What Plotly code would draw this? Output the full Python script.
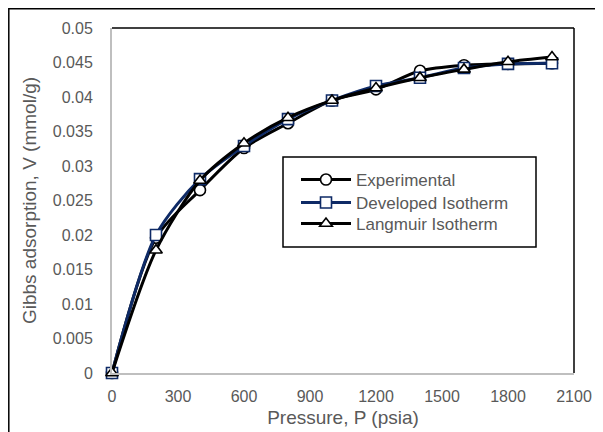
import plotly.graph_objects as go

pressure = [0, 200, 400, 600, 800, 1000, 1200, 1400, 1600, 1800, 2000]
experimental = [0, 0.0196, 0.0265, 0.0326, 0.0362, 0.0395, 0.0411, 0.0438, 0.0446, 0.0448, 0.0449]
developed = [0, 0.0200, 0.0281, 0.0329, 0.0368, 0.0395, 0.0416, 0.0428, 0.0442, 0.0448, 0.0449]
langmuir = [0, 0.0178, 0.0279, 0.0333, 0.0370, 0.0395, 0.0413, 0.0428, 0.0440, 0.0451, 0.0458]

x_ticks = [0, 300, 600, 900, 1200, 1500, 1800, 2100]
y_ticks = [0, 0.005, 0.01, 0.015, 0.02, 0.025, 0.03, 0.035, 0.04, 0.045, 0.05]
y_tick_text = ["0", "0.005", "0.01", "0.015", "0.02", "0.025", "0.03", "0.035", "0.04", "0.045", "0.05"]

font_family = "Liberation Sans, Arial, sans-serif"
grey = "#595959"

fig = go.Figure()
series = [
    ("Experimental", experimental, "black", "circle", "legend", 0.5594),
    ("Developed Isotherm", developed, "#0E2A66", "square", "legend2", 0.4928),
    ("Langmuir Isotherm", langmuir, "black", "triangle-up", "legend3", 0.4319),
]
legend_layouts = {}
for name, vals, col, sym, leg, ly in series:
    fig.add_trace(go.Scatter(
        x=pressure, y=vals, name=name, mode="lines+markers", legend=leg, cliponaxis=False,
        line=dict(color=col, width=3, shape="spline", smoothing=0.8),
        marker=dict(symbol=sym, size=11, color="white", line=dict(color=col, width=1.6)),
    ))
    legend_layouts[leg] = dict(
        x=(296 - 112) / 462, y=ly, xanchor="left", yanchor="middle",
        bgcolor="rgba(0,0,0,0)", borderwidth=0,
        font=dict(size=17, color=grey, family=font_family), itemwidth=50,
    )

fig.update_layout(
    width=603, height=432,
    margin=dict(l=104, r=37, t=20, b=67),
    paper_bgcolor="white", plot_bgcolor="white",
    font=dict(family=font_family, color=grey, size=16),
    showlegend=True,
    xaxis=dict(
        range=[0, 2100], tickvals=x_ticks, ticks="", showgrid=False, zeroline=False,
        showline=True, linecolor="#BFBFBF", linewidth=2, ticklabelstandoff=8,
        title=dict(text="Pressure, P (psia)", font=dict(size=19, color=grey), standoff=6),
        tickfont=dict(size=16, color=grey),
    ),
    yaxis=dict(
        range=[0, 0.05], tickvals=y_ticks, ticktext=y_tick_text, ticks="", showgrid=False, zeroline=False,
        showline=True, linecolor="#BFBFBF", linewidth=2, ticklabelstandoff=14,
        title=dict(text="Gibbs adsorption, V (mmol/g)", font=dict(size=19, color=grey), standoff=11),
        tickfont=dict(size=16, color=grey),
    ),
    **legend_layouts,
)
# legend box
fig.add_shape(type="rect", xref="paper", yref="paper",
              x0=(283 - 112) / 462, x1=(536 - 112) / 462,
              y0=(373 - 247) / 345, y1=(373 - 157) / 345,
              fillcolor="white", line=dict(color="black", width=1.5), layer="above")
# plot area top and right borders
fig.add_shape(type="line", xref="paper", yref="paper", x0=0, x1=1, y0=1, y1=1, line=dict(color="black", width=1.5))
fig.add_shape(type="line", xref="paper", yref="paper", x0=1, x1=1, y0=0, y1=1, line=dict(color="black", width=1.5))
# outer chart border
fig.add_shape(type="rect", xref="paper", yref="paper",
              x0=-103.2 / 462, x1=1.2, y0=-0.4, y1=1 + 19.2 / 345,
              line=dict(color="black", width=1.5), layer="below")

fig.write_html("out.html")
